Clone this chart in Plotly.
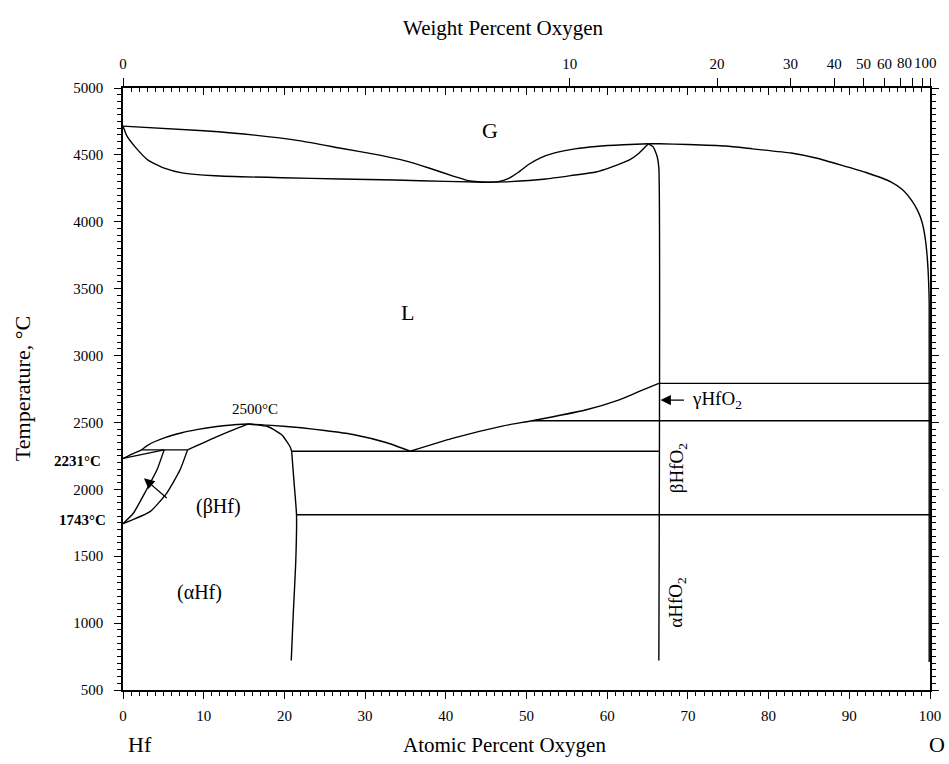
import plotly.graph_objects as go

# ---------------- data (atomic % O, temperature °C) ----------------
gas_dew_left_x = [0, 10, 16.3, 22, 27, 31.8, 35, 38, 41, 43, 45]
gas_dew_left_T = [4715, 4680, 4648, 4605, 4550, 4498, 4455, 4400, 4340, 4305, 4295]
gas_dew_mid_x = [45, 46.5, 47.8, 49, 50.3, 51.8, 53.5, 56, 58.6, 62, 65.1]
gas_dew_mid_T = [4295, 4300, 4325, 4370, 4430, 4480, 4515, 4545, 4563, 4576, 4583]
gas_liq_left_x = [0, 0.5, 1.5, 3.1, 5.2, 7.3, 11.4, 19.7, 27, 33.7, 40, 45]
gas_liq_left_T = [4715, 4640, 4560, 4461, 4399, 4366, 4344, 4329, 4320, 4312, 4302, 4295]
gas_liq_mid_x = [45, 48, 52.4, 55.5, 58.6, 60.6, 62.7, 63.9, 65.1]
gas_liq_mid_T = [4295, 4300, 4320, 4345, 4372, 4411, 4461, 4511, 4583]
gas_right_x = [65.1, 66.4, 70, 74.7, 78, 82.8, 86, 89, 92, 95.2, 96.6, 97.7, 98.5, 99.0, 99.4, 99.7, 99.9, 99.9]
gas_right_T = [4583, 4583, 4578, 4566, 4545, 4514, 4475, 4424, 4370, 4297, 4240, 4162, 4080, 4000, 3880, 3700, 3400, 710]
hfo2_x = [65.1, 65.7, 66.2, 66.4, 66.4]
hfo2_T = [4583, 4560, 4486, 4400, 720]

liq_hf_x = [0, 1.1, 2.3, 3.1, 5.2, 7.3, 9.3, 11.4, 13.5, 15.5]
liq_hf_T = [2231, 2264, 2295, 2331, 2386, 2423, 2448, 2468, 2481, 2488]
liq_mid_x = [15.5, 18.4, 22.1, 25.0, 28.5, 32.7, 35.6]
liq_mid_T = [2488, 2478, 2460, 2440, 2410, 2348, 2285]
liq_ox_x = [35.6, 40.8, 47.0, 50.7, 57.3, 61.4, 63.9, 66.4]
liq_ox_T = [2285, 2381, 2473, 2513, 2593, 2667, 2730, 2792]
sol_a_right_x = [15.5, 18.0, 19.7, 20.7, 20.9]
sol_a_right_T = [2488, 2468, 2406, 2318, 2285]
sol_a_left_x = [8.0, 11.5, 14.5, 15.5]
sol_a_left_T = [2295, 2390, 2465, 2488]
sol_b_x = [0, 5.1]
sol_b_T = [2231, 2295]
peritectic_x = [2.3, 8.0]
peritectic_T = [2295, 2295]
b_bound_x = [0, 1.28, 2.9, 4.2, 5.1]
b_bound_T = [1743, 1821, 1995, 2144, 2295]
a_bound_x = [0, 3.35, 5.4, 7.06, 8.0]
a_bound_T = [1743, 1833, 1970, 2144, 2295]
a_solvus_x = [20.9, 21.2, 21.5, 21.4, 21.1, 20.85]
a_solvus_T = [2285, 2050, 1810, 1447, 1073, 720]
eutectic_x = [20.9, 66.4]
eutectic_T = [2285, 2285]
line1810_x = [21.5, 100]
line1810_T = [1810, 1810]
line2513_x = [50.7, 100]
line2513_T = [2513, 2513]
line2792_x = [66.4, 100]
line2792_T = [2792, 2792]

y_ticks = [500, 1000, 1500, 2000, 2500, 3000, 3500, 4000, 4500, 5000]
at_ticks = [0, 10, 20, 30, 40, 50, 60, 70, 80, 90, 100]
wt_tick_values = [0, 10, 20, 30, 40, 50, 60, 70, 80, 90, 100]
wt_tick_labels = ["0", "10", "20", "30", "40", "50", "60", "", "", "", ""]
# crowded labels at the O end, nudged apart as in the original
wt_end_labels = ["80", "100"]
wt_end_label_x = [0.968, 0.994]

M_O, M_HF = 16.00, 178.49


def wt_to_at(w):
    if w <= 0:
        return 0.0
    if w >= 100:
        return 100.0
    a = w / M_O
    b = (100 - w) / M_HF
    return 100 * a / (a + b)


wt_tick_pos = [wt_to_at(w) for w in wt_tick_values]

FONT = "Liberation Serif"

fig = go.Figure()
curves = [
    (gas_dew_left_x, gas_dew_left_T), (gas_dew_mid_x, gas_dew_mid_T),
    (gas_liq_left_x, gas_liq_left_T), (gas_liq_mid_x, gas_liq_mid_T),
    (gas_right_x, gas_right_T), (hfo2_x, hfo2_T),
    (liq_hf_x, liq_hf_T), (liq_mid_x, liq_mid_T), (liq_ox_x, liq_ox_T),
    (sol_a_right_x, sol_a_right_T), (sol_a_left_x, sol_a_left_T),
    (b_bound_x, b_bound_T), (a_bound_x, a_bound_T), (a_solvus_x, a_solvus_T),
]
straight = [
    (sol_b_x, sol_b_T), (peritectic_x, peritectic_T), (eutectic_x, eutectic_T),
    (line1810_x, line1810_T), (line2513_x, line2513_T), (line2792_x, line2792_T),
]
for xs, ts in curves:
    fig.add_trace(go.Scatter(x=xs, y=ts, mode="lines",
                             line=dict(color="black", width=1.4, shape="spline", smoothing=0.5),
                             showlegend=False, hoverinfo="skip", cliponaxis=False))
for xs, ts in straight:
    fig.add_trace(go.Scatter(x=xs, y=ts, mode="lines", line=dict(color="black", width=1.4),
                             showlegend=False, hoverinfo="skip", cliponaxis=False))

# invisible traces to activate top axes
fig.add_trace(go.Scatter(x=[0, 100], y=[500, 500], xaxis="x2", mode="lines",
                         line=dict(width=0), showlegend=False, hoverinfo="skip"))
fig.add_trace(go.Scatter(x=[0, 100], y=[500, 500], xaxis="x3", mode="lines",
                         line=dict(width=0), showlegend=False, hoverinfo="skip"))

tickfont = dict(family=FONT, size=15, color="black")
fig.update_layout(
    width=949, height=764,
    margin=dict(l=123, r=19, t=88, b=74, autoexpand=False),
    paper_bgcolor="white", plot_bgcolor="white",
    font=dict(family=FONT, color="black"),
    xaxis=dict(range=[0, 100], tickvals=at_ticks, ticks="outside", ticklen=7, tickwidth=1.2,
               tickcolor="black", showline=True, linecolor="black", linewidth=1.5, mirror=True,
               showgrid=False, zeroline=False, tickfont=tickfont, ticklabelstandoff=4, tickangle=0,
               automargin=False,
               minor=dict(dtick=1, ticks="outside", ticklen=4, tickcolor="black", tickwidth=1, showgrid=False)),
    xaxis2=dict(range=[0, 100], overlaying="x", side="top", tickvals=wt_tick_pos, ticktext=wt_tick_labels,
                ticks="outside", ticklen=9, tickwidth=1.2, tickcolor="black", showgrid=False,
                zeroline=False, showline=False, tickfont=tickfont, ticklabelstandoff=3, tickangle=0,
                automargin=False),
    xaxis3=dict(range=[0, 100], overlaying="x", side="top", tickvals=at_ticks, showticklabels=False,
                ticks="inside", ticklen=7, tickwidth=1.2, tickcolor="black", showgrid=False, zeroline=False,
                showline=False, automargin=False,
                minor=dict(dtick=1, ticks="inside", ticklen=4, tickcolor="black", tickwidth=1, showgrid=False)),
    yaxis=dict(range=[500, 5000], tickvals=y_ticks, ticks="outside", ticklen=7, tickwidth=1.2,
               tickcolor="black", showline=True, linecolor="black", linewidth=1.5, mirror="ticks",
               showgrid=False, zeroline=False, tickfont=tickfont, ticklabelstandoff=8, automargin=False,
               minor=dict(dtick=50, ticks="outside", ticklen=4, tickcolor="black", tickwidth=1, showgrid=False)),
)

ann = []
def txt(x, y, s, size, **kw):
    d = dict(x=x, y=y, text=s, showarrow=False, font=dict(family=FONT, size=size, color="black"),
             xanchor="center", yanchor="middle")
    d.update(kw)
    ann.append(d)

txt(45.5, 4680, "G", 22)
txt(35.2, 3325, "L", 22)
txt(11.8, 1868, "(βHf)", 20)
txt(9.5, 1232, "(αHf)", 20)
txt(16.4, 2600, "2500°C", 15)
txt(70.3, 2667, "γHfO<sub>2</sub>", 19, xanchor="left")
txt(68.8, 2160, "βHfO<sub>2</sub>", 19, textangle=-90)
txt(68.6, 1150, "αHfO<sub>2</sub>", 19, textangle=-90)
# left bold temperature labels
txt(-0.025, 2215, "<b>2231°C</b>", 15, xref="paper", xanchor="right")
txt(-0.019, 1772, "<b>1743°C</b>", 15, xref="paper", xanchor="right")
# crowded top tick labels
for lab, px in zip(wt_end_labels, wt_end_label_x):
    txt(px, 1.0415, lab, 15, xref="paper", yref="paper")
# axis titles
txt(0.473, -0.091, "Atomic Percent Oxygen", 21, xref="paper", yref="paper")
txt(0.021, -0.091, "Hf", 22, xref="paper", yref="paper")
txt(1.009, -0.091, "O", 22, xref="paper", yref="paper")
txt(0.471, 1.0996, "Weight Percent Oxygen", 21, xref="paper", yref="paper")
txt(-0.125, 0.5, "Temperature, °C", 22, xref="paper", yref="paper", textangle=-90)

# arrows
ann.append(dict(x=2.6, y=2082, ax=5.6, ay=1925, xref="x", yref="y", axref="x", ayref="y",
                showarrow=True, arrowhead=2, arrowsize=1.6, arrowwidth=1.3, arrowcolor="black", text=""))
ann.append(dict(x=66.6, y=2667, ax=69.7, ay=2667, xref="x", yref="y", axref="x", ayref="y",
                showarrow=True, arrowhead=2, arrowsize=1.6, arrowwidth=1.3, arrowcolor="black", text=""))
fig.update_layout(annotations=ann)

fig.write_html("out.html", config={"displayModeBar": False},
               post_script="document.body.style.margin='0';document.body.style.overflow='hidden';")
